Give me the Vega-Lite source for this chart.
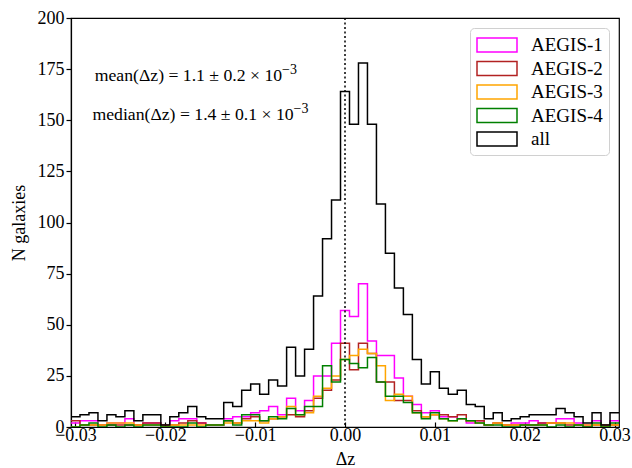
{
  "$schema": "https://vega.github.io/schema/vega-lite/v6.json",
  "width": 548,
  "height": 409,
  "autosize": {"type": "none"},
  "padding": {"left": 71, "top": 18, "right": 13, "bottom": 41},
  "background": "white",
  "config": {
    "font": "Liberation Serif",
    "view": {"stroke": "black", "strokeWidth": 1.2},
    "axis": {
      "grid": false, "domainColor": "black", "domainWidth": 1.2, "tickColor": "black", "tickWidth": 1.2,
      "labelColor": "black", "titleColor": "black", "labelFont": "Liberation Serif", "titleFont": "Liberation Serif",
      "labelFontSize": 18, "titleFontSize": 18, "titleFontWeight": "normal"
    },
    "legend": {
      "orient": "top-right", "offset": 10, "fillColor": "white", "strokeColor": "#d0d0d0", "cornerRadius": 4,
      "padding": 6, "labelFont": "Liberation Serif", "labelFontSize": 19, "labelColor": "black",
      "symbolType": "M-1,-0.7H3V0.7H-1Z", "symbolSize": 400, "symbolStrokeWidth": 1.5, "labelOffset": 33, "rowPadding": 2.5
    }
  },
  "layer": [
    {
      "data": {"values": [
        {"lo": -0.0305, "hi": -0.0295, "AEGIS-1": 2, "AEGIS-2": 3, "AEGIS-3": 0, "AEGIS-4": 0, "all": 5},
        {"lo": -0.0295, "hi": -0.0285, "AEGIS-1": 3, "AEGIS-2": 1, "AEGIS-3": 1, "AEGIS-4": 1, "all": 6},
        {"lo": -0.0285, "hi": -0.0275, "AEGIS-1": 3, "AEGIS-2": 1, "AEGIS-3": 1, "AEGIS-4": 2, "all": 7},
        {"lo": -0.0275, "hi": -0.0265, "AEGIS-1": 1, "AEGIS-2": 1, "AEGIS-3": 1, "AEGIS-4": 0, "all": 3},
        {"lo": -0.0265, "hi": -0.0255, "AEGIS-1": 2, "AEGIS-2": 1, "AEGIS-3": 2, "AEGIS-4": 1, "all": 6},
        {"lo": -0.0255, "hi": -0.0245, "AEGIS-1": 2, "AEGIS-2": 1, "AEGIS-3": 2, "AEGIS-4": 0, "all": 5},
        {"lo": -0.0245, "hi": -0.0235, "AEGIS-1": 4, "AEGIS-2": 1, "AEGIS-3": 2, "AEGIS-4": 1, "all": 8},
        {"lo": -0.0235, "hi": -0.0225, "AEGIS-1": 1, "AEGIS-2": 1, "AEGIS-3": 1, "AEGIS-4": 0, "all": 3},
        {"lo": -0.0225, "hi": -0.0215, "AEGIS-1": 2, "AEGIS-2": 2, "AEGIS-3": 1, "AEGIS-4": 1, "all": 6},
        {"lo": -0.0215, "hi": -0.0205, "AEGIS-1": 2, "AEGIS-2": 2, "AEGIS-3": 1, "AEGIS-4": 1, "all": 6},
        {"lo": -0.0205, "hi": -0.0195, "AEGIS-1": 0, "AEGIS-2": 1, "AEGIS-3": 0, "AEGIS-4": 0, "all": 1},
        {"lo": -0.0195, "hi": -0.0185, "AEGIS-1": 3, "AEGIS-2": 1, "AEGIS-3": 1, "AEGIS-4": 0, "all": 5},
        {"lo": -0.0185, "hi": -0.0175, "AEGIS-1": 4, "AEGIS-2": 2, "AEGIS-3": 1, "AEGIS-4": 0, "all": 7},
        {"lo": -0.0175, "hi": -0.0165, "AEGIS-1": 4, "AEGIS-2": 3, "AEGIS-3": 1, "AEGIS-4": 2, "all": 10},
        {"lo": -0.0165, "hi": -0.0155, "AEGIS-1": 2, "AEGIS-2": 2, "AEGIS-3": 1, "AEGIS-4": 0, "all": 5},
        {"lo": -0.0155, "hi": -0.0145, "AEGIS-1": 1, "AEGIS-2": 1, "AEGIS-3": 1, "AEGIS-4": 1, "all": 4},
        {"lo": -0.0145, "hi": -0.0135, "AEGIS-1": 1, "AEGIS-2": 1, "AEGIS-3": 1, "AEGIS-4": 1, "all": 4},
        {"lo": -0.0135, "hi": -0.0125, "AEGIS-1": 4, "AEGIS-2": 3, "AEGIS-3": 2, "AEGIS-4": 3, "all": 12},
        {"lo": -0.0125, "hi": -0.0115, "AEGIS-1": 5, "AEGIS-2": 2, "AEGIS-3": 2, "AEGIS-4": 1, "all": 10},
        {"lo": -0.0115, "hi": -0.0105, "AEGIS-1": 5, "AEGIS-2": 4, "AEGIS-3": 3, "AEGIS-4": 6, "all": 18},
        {"lo": -0.0105, "hi": -0.0095, "AEGIS-1": 7, "AEGIS-2": 5, "AEGIS-3": 3, "AEGIS-4": 6, "all": 21},
        {"lo": -0.0095, "hi": -0.0085, "AEGIS-1": 8, "AEGIS-2": 3, "AEGIS-3": 2, "AEGIS-4": 3, "all": 16},
        {"lo": -0.0085, "hi": -0.0075, "AEGIS-1": 10, "AEGIS-2": 4, "AEGIS-3": 4, "AEGIS-4": 5, "all": 23},
        {"lo": -0.0075, "hi": -0.0065, "AEGIS-1": 6, "AEGIS-2": 5, "AEGIS-3": 5, "AEGIS-4": 4, "all": 20},
        {"lo": -0.0065, "hi": -0.0055, "AEGIS-1": 14, "AEGIS-2": 6, "AEGIS-3": 10, "AEGIS-4": 9, "all": 39},
        {"lo": -0.0055, "hi": -0.0045, "AEGIS-1": 8, "AEGIS-2": 5, "AEGIS-3": 6, "AEGIS-4": 6, "all": 25},
        {"lo": -0.0045, "hi": -0.0035, "AEGIS-1": 13, "AEGIS-2": 8, "AEGIS-3": 7, "AEGIS-4": 10, "all": 38},
        {"lo": -0.0035, "hi": -0.0025, "AEGIS-1": 25, "AEGIS-2": 14, "AEGIS-3": 15, "AEGIS-4": 10, "all": 64},
        {"lo": -0.0025, "hi": -0.0015, "AEGIS-1": 25, "AEGIS-2": 18, "AEGIS-3": 19, "AEGIS-4": 30, "all": 92},
        {"lo": -0.0015, "hi": -0.0005, "AEGIS-1": 41, "AEGIS-2": 23, "AEGIS-3": 25, "AEGIS-4": 22, "all": 111},
        {"lo": -0.0005, "hi": 0.0005, "AEGIS-1": 57, "AEGIS-2": 41, "AEGIS-3": 33, "AEGIS-4": 33, "all": 164},
        {"lo": 0.0005, "hi": 0.0015, "AEGIS-1": 54, "AEGIS-2": 28, "AEGIS-3": 35, "AEGIS-4": 31, "all": 148},
        {"lo": 0.0015, "hi": 0.0025, "AEGIS-1": 70, "AEGIS-2": 41, "AEGIS-3": 38, "AEGIS-4": 29, "all": 178},
        {"lo": 0.0025, "hi": 0.0035, "AEGIS-1": 42, "AEGIS-2": 36, "AEGIS-3": 36, "AEGIS-4": 34, "all": 148},
        {"lo": 0.0035, "hi": 0.0045, "AEGIS-1": 35, "AEGIS-2": 22, "AEGIS-3": 30, "AEGIS-4": 22, "all": 109},
        {"lo": 0.0045, "hi": 0.0055, "AEGIS-1": 35, "AEGIS-2": 22, "AEGIS-3": 13, "AEGIS-4": 15, "all": 85},
        {"lo": 0.0055, "hi": 0.0065, "AEGIS-1": 24, "AEGIS-2": 13, "AEGIS-3": 16, "AEGIS-4": 15, "all": 68},
        {"lo": 0.0065, "hi": 0.0075, "AEGIS-1": 15, "AEGIS-2": 13, "AEGIS-3": 15, "AEGIS-4": 12, "all": 55},
        {"lo": 0.0075, "hi": 0.0085, "AEGIS-1": 11, "AEGIS-2": 8, "AEGIS-3": 7, "AEGIS-4": 7, "all": 33},
        {"lo": 0.0085, "hi": 0.0095, "AEGIS-1": 7, "AEGIS-2": 5, "AEGIS-3": 5, "AEGIS-4": 4, "all": 21},
        {"lo": 0.0095, "hi": 0.0105, "AEGIS-1": 8, "AEGIS-2": 6, "AEGIS-3": 6, "AEGIS-4": 7, "all": 27},
        {"lo": 0.0105, "hi": 0.0115, "AEGIS-1": 5, "AEGIS-2": 6, "AEGIS-3": 4, "AEGIS-4": 4, "all": 19},
        {"lo": 0.0115, "hi": 0.0125, "AEGIS-1": 5, "AEGIS-2": 5, "AEGIS-3": 3, "AEGIS-4": 3, "all": 16},
        {"lo": 0.0125, "hi": 0.0135, "AEGIS-1": 4, "AEGIS-2": 6, "AEGIS-3": 4, "AEGIS-4": 4, "all": 18},
        {"lo": 0.0135, "hi": 0.0145, "AEGIS-1": 2, "AEGIS-2": 3, "AEGIS-3": 3, "AEGIS-4": 3, "all": 11},
        {"lo": 0.0145, "hi": 0.0155, "AEGIS-1": 3, "AEGIS-2": 3, "AEGIS-3": 2, "AEGIS-4": 2, "all": 10},
        {"lo": 0.0155, "hi": 0.0165, "AEGIS-1": 1, "AEGIS-2": 1, "AEGIS-3": 1, "AEGIS-4": 1, "all": 4},
        {"lo": 0.0165, "hi": 0.0175, "AEGIS-1": 2, "AEGIS-2": 2, "AEGIS-3": 2, "AEGIS-4": 1, "all": 7},
        {"lo": 0.0175, "hi": 0.0185, "AEGIS-1": 1, "AEGIS-2": 1, "AEGIS-3": 1, "AEGIS-4": 0, "all": 3},
        {"lo": 0.0185, "hi": 0.0195, "AEGIS-1": 2, "AEGIS-2": 1, "AEGIS-3": 1, "AEGIS-4": 0, "all": 4},
        {"lo": 0.0195, "hi": 0.0205, "AEGIS-1": 2, "AEGIS-2": 1, "AEGIS-3": 1, "AEGIS-4": 1, "all": 5},
        {"lo": 0.0205, "hi": 0.0215, "AEGIS-1": 3, "AEGIS-2": 1, "AEGIS-3": 1, "AEGIS-4": 1, "all": 6},
        {"lo": 0.0215, "hi": 0.0225, "AEGIS-1": 2, "AEGIS-2": 2, "AEGIS-3": 1, "AEGIS-4": 1, "all": 6},
        {"lo": 0.0225, "hi": 0.0235, "AEGIS-1": 2, "AEGIS-2": 2, "AEGIS-3": 2, "AEGIS-4": 0, "all": 6},
        {"lo": 0.0235, "hi": 0.0245, "AEGIS-1": 4, "AEGIS-2": 2, "AEGIS-3": 2, "AEGIS-4": 1, "all": 9},
        {"lo": 0.0245, "hi": 0.0255, "AEGIS-1": 4, "AEGIS-2": 1, "AEGIS-3": 2, "AEGIS-4": 0, "all": 7},
        {"lo": 0.0255, "hi": 0.0265, "AEGIS-1": 2, "AEGIS-2": 1, "AEGIS-3": 1, "AEGIS-4": 1, "all": 5},
        {"lo": 0.0265, "hi": 0.0275, "AEGIS-1": 1, "AEGIS-2": 0, "AEGIS-3": 1, "AEGIS-4": 0, "all": 2},
        {"lo": 0.0275, "hi": 0.0285, "AEGIS-1": 3, "AEGIS-2": 1, "AEGIS-3": 1, "AEGIS-4": 2, "all": 7},
        {"lo": 0.0285, "hi": 0.0295, "AEGIS-1": 0, "AEGIS-2": 1, "AEGIS-3": 0, "AEGIS-4": 0, "all": 1},
        {"lo": 0.0295, "hi": 0.0305, "AEGIS-1": 3, "AEGIS-2": 1, "AEGIS-3": 1, "AEGIS-4": 2, "all": 7}
      ]},
      "transform": [
        {"fold": ["AEGIS-1", "AEGIS-2", "AEGIS-3", "AEGIS-4", "all"], "as": ["series", "n"]},
        {"fold": ["lo", "hi"], "as": ["side", "edge"]}
      ],
      "mark": {"type": "line", "strokeWidth": 1.5, "interpolate": "linear", "clip": true},
      "encoding": {
        "x": {
          "field": "edge", "type": "quantitative",
          "scale": {"domain": [-0.0305, 0.0305], "nice": false, "zero": false},
          "axis": {"values": [-0.03, -0.02, -0.01, 0, 0.01, 0.02, 0.03], "format": ".2f", "tickSize": -5, "labelPadding": 4, "title": "Δz", "titlePadding": 6}
        },
        "y": {
          "field": "n", "type": "quantitative",
          "scale": {"domain": [0, 200], "nice": false},
          "axis": {"values": [0, 25, 50, 75, 100, 125, 150, 175, 200], "tickSize": 5, "labelPadding": 2, "title": "N galaxies", "titlePadding": 9}
        },
        "color": {
          "field": "series", "type": "nominal",
          "scale": {"domain": ["AEGIS-1", "AEGIS-2", "AEGIS-3", "AEGIS-4", "all"], "range": ["#ff00ff", "#b22222", "#ffa500", "#008000", "#000000"]},
          "legend": {"title": null}
        },
        "order": [{"field": "edge", "type": "quantitative"}, {"field": "side", "type": "nominal"}]
      }
    },
    {
      "data": {"values": [{"z": 0}]},
      "mark": {"type": "rule", "color": "black", "strokeWidth": 1.5, "strokeDash": [2, 2.5]},
      "encoding": {"x": {"field": "z", "type": "quantitative"}}
    },
    {
      "data": {"values": [
        {"t": "mean(Δz) = 1.1 ± 0.2 × 10", "x": -0.0070, "y": 169},
        {"t": "median(Δz) = 1.4 ± 0.1 × 10", "x": -0.00572, "y": 150}
      ]},
      "mark": {"type": "text", "align": "right", "baseline": "alphabetic", "fontSize": 17.7, "font": "Liberation Serif", "color": "black"},
      "encoding": {
        "x": {"field": "x", "type": "quantitative"},
        "y": {"field": "y", "type": "quantitative"},
        "text": {"field": "t"}
      }
    },
    {
      "data": {"values": [
        {"t": "−3", "x": -0.0070, "y": 172.5},
        {"t": "−3", "x": -0.00572, "y": 153.5}
      ]},
      "mark": {"type": "text", "align": "left", "baseline": "alphabetic", "fontSize": 14, "font": "Liberation Serif", "color": "black"},
      "encoding": {
        "x": {"field": "x", "type": "quantitative"},
        "y": {"field": "y", "type": "quantitative"},
        "text": {"field": "t"}
      }
    }
  ]
}
